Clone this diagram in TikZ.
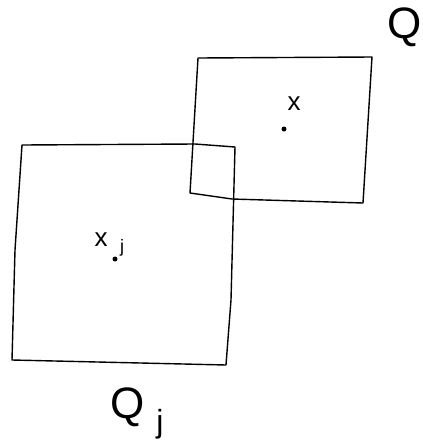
\documentclass[tikz,border=0pt]{standalone}
\usepackage{fontspec}
\setmainfont{Liberation Sans}
\begin{document}
\begin{tikzpicture}[x=1pt,y=-1pt,
  edge/.style={draw=black,line width=1.4pt,line join=round,line cap=round},
  lbl/.style={inner sep=0pt,font=\fontsize{44}{44}\selectfont},
  small/.style={inner sep=0pt,font=\fontsize{26}{26}\selectfont},
  sub/.style={inner sep=0pt,font=\fontsize{18}{18}\selectfont},
  pt/.style={circle,fill=black,inner sep=0pt,minimum size=5pt}]
\useasboundingbox (0,0) rectangle (423,448);
% square Q
\draw[edge] (198,58) -- (372,57) -- (363,203) -- (232,199) -- (190,193) -- cycle;
% square Q_j
\draw[edge] (22,145) -- (195,144) -- (235,147) -- (231,300) -- (226,365) -- (12,360) -- (15,250) -- cycle;
% labels
\node[lbl] (Q) at (405,27) {Q};
\node[small] (x) at (294,104) {x};
\node[pt] (px) at (284,129) {};
\node[small] (xj) at (101,240) {x};
\node[sub] (j1) at (122,248) {j};
\node[pt] (pxj) at (115,259) {};
\node[lbl] (Qj) at (128,407) {Q};
\node[lbl,font=\fontsize{32}{32}\selectfont] (j2) at (160,424) {j};
\end{tikzpicture}
\end{document}
